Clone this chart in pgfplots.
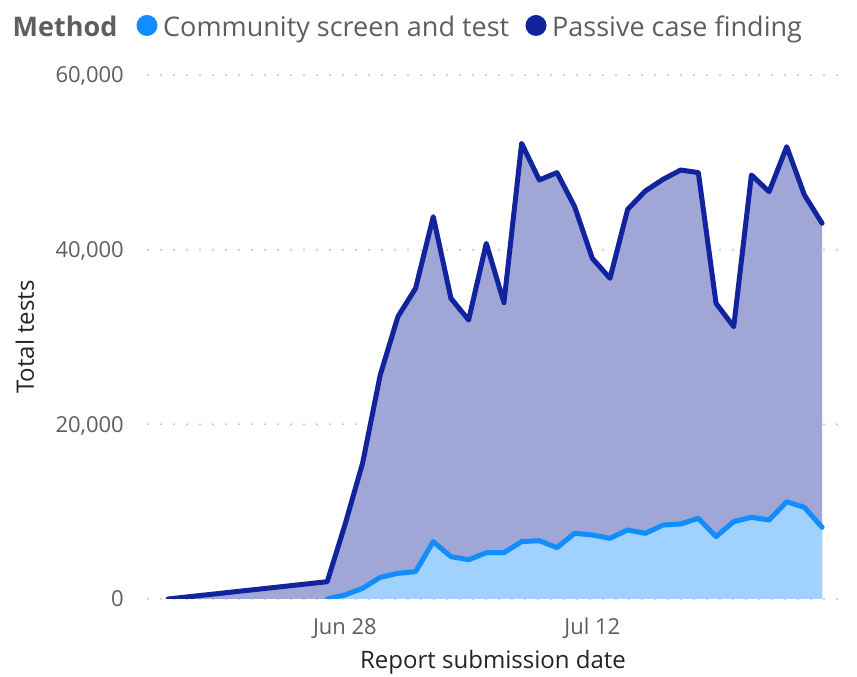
\documentclass[border=0pt]{standalone}
\usepackage{fontspec}
\setmainfont{Open Sans}
\usepackage{pgfplots}
\usepackage{pgfplotstable}
\pgfplotsset{compat=1.18}

\definecolor{passive}{HTML}{12239E}
\definecolor{passivefill}{HTML}{A0A6D6}
\definecolor{community}{HTML}{118DFF}
\definecolor{communityfill}{HTML}{A0D1FF}
\definecolor{ticktext}{HTML}{605E5C}
\definecolor{titletext}{HTML}{252423}
\definecolor{gridgray}{HTML}{C8C6C4}

% day offset from Jun 28
\pgfplotstableread{
day tests
-10 0
-1 1980
0 8470
1 15540
2 25650
3 32330
4 35570
5 43780
6 34430
7 31950
8 40720
9 33930
10 52170
11 47980
12 48820
13 44920
14 39000
15 36720
16 44620
17 46720
18 48050
19 49120
20 48820
21 33850
22 31180
23 48550
24 46640
25 51790
26 46260
27 43020
}\passivetbl

\pgfplotstableread{
day tests
-1 0
0 460
1 1220
2 2480
3 2940
4 3130
5 6570
6 4850
7 4500
8 5300
9 5300
10 6570
11 6680
12 5880
13 7520
14 7330
15 6950
16 7900
17 7520
18 8470
19 8590
20 9240
21 7140
22 8860
23 9350
24 9050
25 11140
26 10490
27 8210
}\communitytbl

\begin{document}
\begin{tikzpicture}
\path[use as bounding box] (0pt,0pt) rectangle (857pt,677pt);
\begin{axis}[
    at={(148pt,78pt)}, anchor=south west,
    width=690pt, height=524pt, scale only axis,
    xmin=-11.14, xmax=27.9,
    ymin=0, ymax=60000,
    xtick={0,14}, xticklabels={Jun 28, Jul 12},
    ytick={0,20000,40000,60000},
    axis line style={draw=none},
    tick style={draw=none},
    ymajorgrids,
    major grid style={draw=gridgray, line width=2.2pt, line cap=round, dash pattern=on 0pt off 13pt},
    /pgf/number format/.cd, 1000 sep={,}, assume math mode=true,
    /pgfplots/.cd,
    scaled y ticks=false,
    tick label style={font=\fontsize{22}{26}\selectfont, text=ticktext, inner sep=0pt},
    x tick label style={anchor=base, yshift=-36pt},
    y tick label style={anchor=base east, xshift=-24pt, yshift=-8pt},
    xlabel={Report submission date},
    ylabel={Total tests},
    every axis x label/.style={at={(rel axis cs:0.5,0)}, anchor=base, yshift=-70pt,
        font=\fontsize{24}{28}\selectfont, text=titletext, inner sep=0pt},
    every axis y label/.style={at={(rel axis cs:0,0.5)}, xshift=-123pt, rotate=90, anchor=center,
        font=\fontsize{24}{28}\selectfont, text=titletext, inner sep=0pt},
]
\addplot[draw=none, fill=passivefill] table[x=day, y=tests] {\passivetbl} \closedcycle;
\addplot[draw=none, fill=communityfill] table[x=day, y=tests] {\communitytbl} \closedcycle;
\addplot[passive, line width=5pt, line join=round, line cap=round] table[x=day, y=tests] {\passivetbl};
\addplot[community, line width=5pt, line join=round, line cap=round] table[x=day, y=tests] {\communitytbl};
\end{axis}
\node[anchor=base west, inner sep=0pt, text=ticktext, font=\fontsize{27}{30}\selectfont\bfseries] at (12.5pt,640.5pt) {Method};
\fill[community] (147pt,651.5pt) circle (10.5pt);
\node[anchor=base west, inner sep=0pt, text=ticktext, font=\fontsize{27}{30}\selectfont] at (163pt,640.5pt) {Community screen and test};
\fill[passive] (536pt,651.5pt) circle (10.5pt);
\node[anchor=base west, inner sep=0pt, text=ticktext, font=\fontsize{27}{30}\selectfont] at (552pt,640.5pt) {Passive case finding};
\end{tikzpicture}
\end{document}
